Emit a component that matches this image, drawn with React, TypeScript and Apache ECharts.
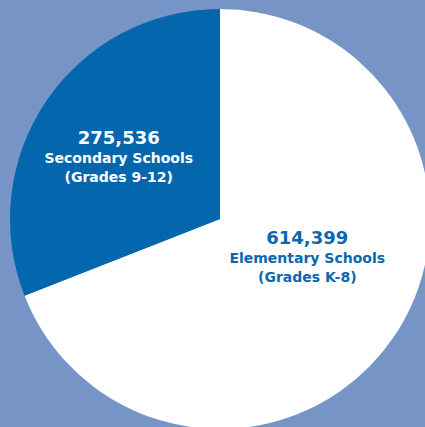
import React, { useEffect, useRef } from "react";
import * as echarts from "echarts";

const categories = ["Elementary Schools", "Secondary Schools"];
const grades = ["(Grades K-8)", "(Grades 9-12)"];
const values = [614399, 275536];

const fmt = (v: number) => v.toLocaleString("en-US");

export default function App() {
  const ref = useRef<HTMLDivElement>(null);
  useEffect(() => {
    document.body.style.margin = "0";
    const chart = echarts.init(ref.current!, undefined, { renderer: "svg" });
    const fills = ["#ffffff", "#0466ad"];
    const textColors = ["#0b67ae", "#ffffff"];
    const offsets = [[-2, -23], [-12, -2]];
    chart.setOption({
      animation: false,
      backgroundColor: "#7794c6",
      series: [
        {
          type: "pie",
          center: [220, 219],
          radius: [0, 210],
          startAngle: 90,
          clockwise: true,
          silent: true,
          labelLine: { show: false },
          data: values.map((v, i) => ({
            value: v,
            name: categories[i],
            itemStyle: { color: fills[i] },
            label: {
              show: true,
              position: "inside",
              offset: offsets[i],
              formatter: `{n|${fmt(v)}}\n{l|${categories[i]}}\n{l|${grades[i]}}`,
              rich: {
                n: {
                  fontFamily: "DejaVu Sans",
                  fontWeight: "bold",
                  fontSize: 18,
                  lineHeight: 22,
                  color: textColors[i],
                  align: "center",
                },
                l: {
                  fontFamily: "DejaVu Sans",
                  fontWeight: "bold",
                  fontSize: 14,
                  lineHeight: 19,
                  color: textColors[i],
                  align: "center",
                },
              },
            },
          })),
        },
      ],
    });
    return () => chart.dispose();
  }, []);
  return <div ref={ref} style={{ width: 425, height: 427 }} />;
}
